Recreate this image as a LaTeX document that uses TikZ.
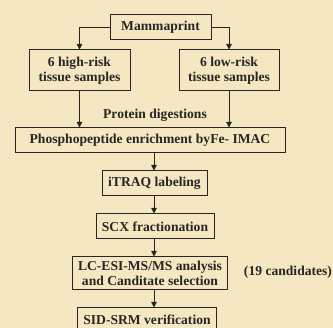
\documentclass[tikz,border=0pt]{standalone}
\usepackage{fontspec}
\setmainfont{Liberation Serif}
\usetikzlibrary{arrows.meta}
\definecolor{bgc}{RGB}{244,231,194}
\definecolor{ink}{RGB}{40,38,36}
\tikzset{
  box/.style={draw=ink, line width=1pt, fill=none, inner sep=0pt, align=center,
    text=ink, font=\fontsize{13.6}{15}\selectfont\bfseries},
  lbl/.style={inner sep=0pt, text=ink, font=\fontsize{13.6}{15}\selectfont\bfseries},
  arr/.style={draw=ink, line width=1pt, -{Triangle[length=5.5pt,width=5.5pt]}},
}
\begin{document}
\begin{tikzpicture}[x=1pt,y=-1pt]
\fill[bgc] (0,0) rectangle (333,328);
\useasboundingbox (0,0) rectangle (333,328);
\coordinate (ax) at (154,0);
\node[box, minimum width=101pt, minimum height=25pt] (m) at (160.5,27.5) {Mammaprint};
\node[box, minimum width=101pt, minimum height=41pt] (hr) at (79.5,70.5) {6 high-risk\\tissue samples};
\node[box, minimum width=100pt, minimum height=41pt] (lr) at (229,70.5) {6 low-risk\\tissue samples};
\node[lbl] (pd) at (155,115) {Protein digestions};
\node[box, minimum width=270pt, minimum height=25pt] (ph) at (150,140.5) {Phosphopeptide enrichment byFe- IMAC};
\node[box, minimum width=105pt, minimum height=25pt] (it) at (154.5,183.5) {iTRAQ labeling};
\node[box, minimum width=118pt, minimum height=25pt] (scx) at (155,226.5) {SCX fractionation};
\node[box, minimum width=155pt, minimum height=33pt] (lc) at (150,273.5) {LC-ESI-MS/MS analysis\\and Canditate selection};
\node[lbl] (cand) at (288,272) {(19 candidates)};
\node[box, minimum width=139pt, minimum height=24pt] (sid) at (147,320) {SID-SRM verification};
\draw[arr] (m.west) -| (hr.north);
\draw[arr] (m.east) -| (lr.north);
\draw[arr] (hr.south) -- (hr.south |- ph.north);
\draw[arr] (lr.south) -- (lr.south |- ph.north);
\draw[arr] (ph.south -| ax) -- (it.north -| ax);
\draw[arr] (it.south -| ax) -- (scx.north -| ax);
\draw[arr] (scx.south -| ax) -- (lc.north -| ax);
\draw[arr] (lc.south -| ax) -- (sid.north -| ax);
\end{tikzpicture}
\end{document}
